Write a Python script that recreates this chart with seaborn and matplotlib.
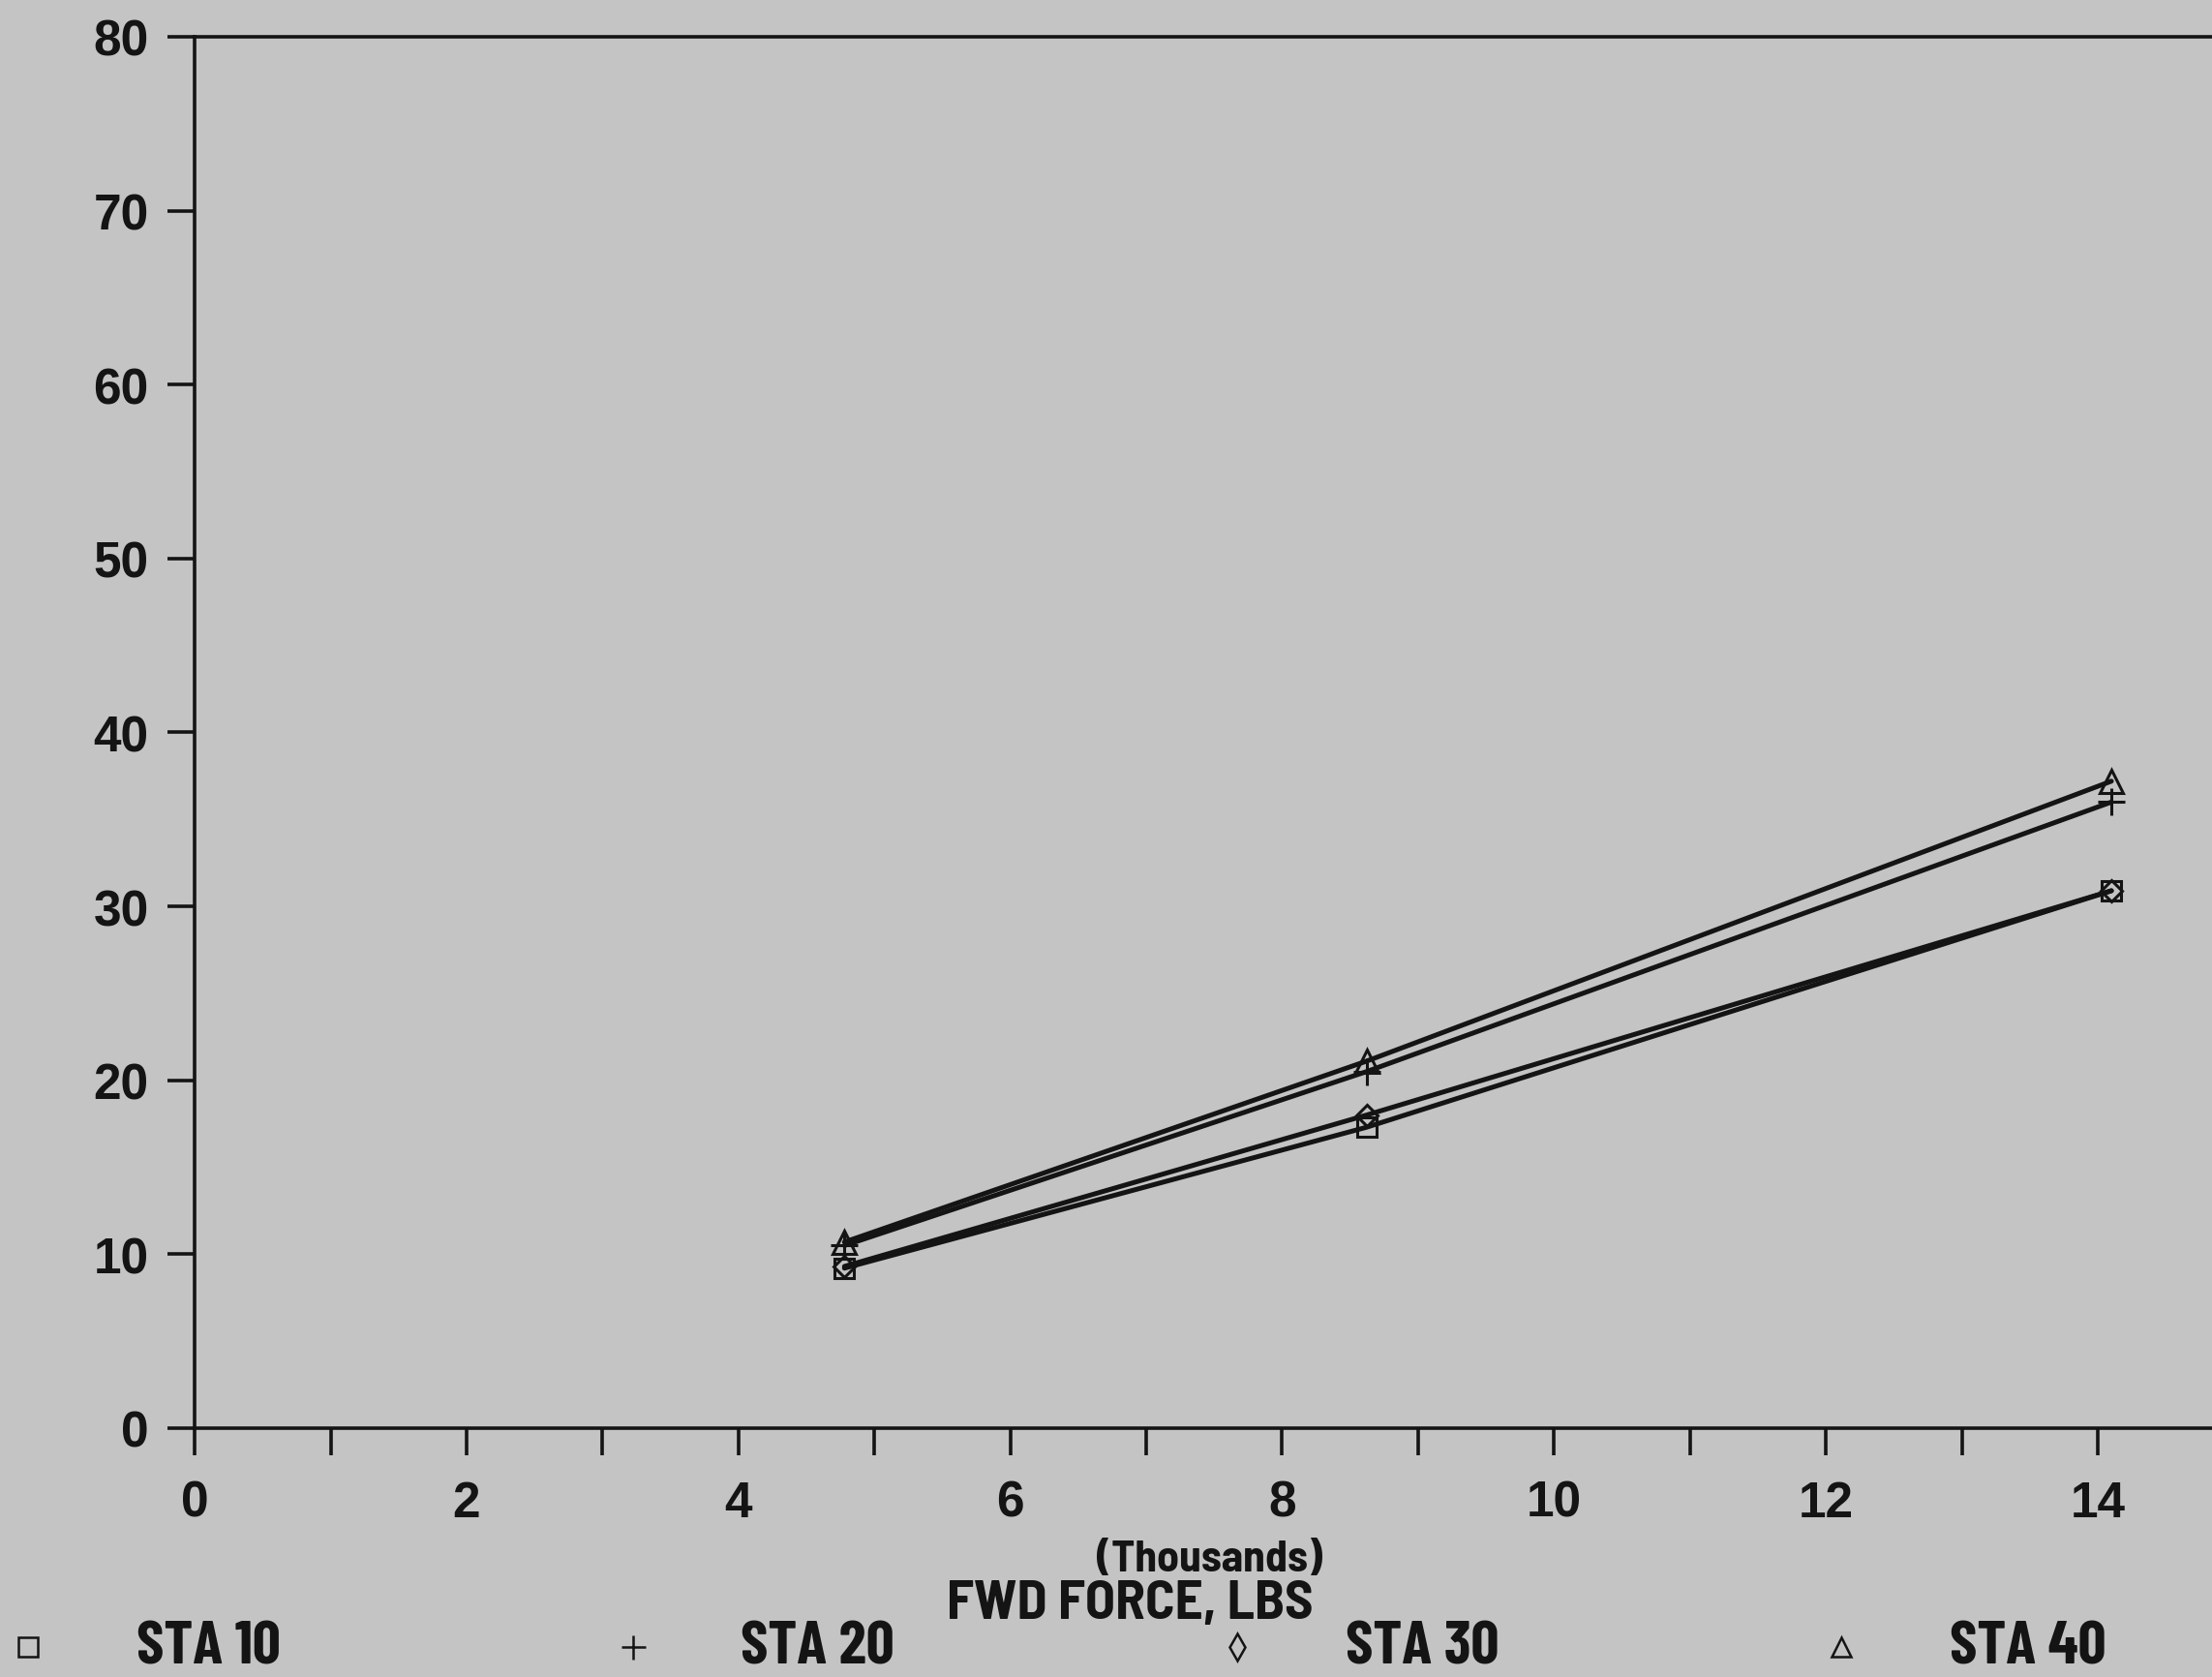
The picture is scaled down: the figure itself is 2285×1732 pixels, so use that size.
import matplotlib
matplotlib.use("Agg")
import matplotlib.pyplot as plt
from matplotlib.lines import Line2D
from matplotlib.ticker import FixedLocator
import numpy as np
import pandas as pd
import seaborn as sns

# FWD force (thousands of lbs) and deflection readings per station
force = [4.78, 8.62, 14.1]
sta_10 = [9.2, 17.3, 30.9]
sta_20 = [10.5, 20.5, 36.0]
sta_30 = [9.3, 18.0, 30.9]
sta_40 = [10.7, 21.1, 37.2]

stations = ["STA 10", "STA 20", "STA 30", "STA 40"]

x_ticks = list(range(0, 15))
x_tick_labels = [str(t) if t % 2 == 0 else "" for t in x_ticks]
y_ticks = [0, 10, 20, 30, 40, 50, 60, 70, 80]

paper = "#c4c4c4"
ink = "#141414"

sns.set_theme(style="white")
plt.rcParams["font.family"] = ["Liberation Sans", "DejaVu Sans"]
plt.rcParams["font.weight"] = "bold"

df = pd.DataFrame({
    "force": force * 4,
    "value": sta_10 + sta_20 + sta_30 + sta_40,
    "station": [s for s in stations for _ in force],
})

fig = plt.figure(figsize=(22.85, 17.33), dpi=100, facecolor=paper)
ax = fig.add_axes([0.088, 0.1483, 0.912, 0.8292])
ax.set_facecolor(paper)

# marker, marker size per station
styles = {"STA 10": ("s", 15), "STA 20": ("+", 20),
          "STA 30": ("D", 11), "STA 40": ("^", 17)}
for name in stations:
    mk, ms = styles[name]
    sns.lineplot(
        data=df[df["station"] == name], x="force", y="value",
        color=ink, marker=mk, markersize=ms, markeredgewidth=2.2,
        markerfacecolor="none", markeredgecolor=ink, linewidth=3.6,
        legend=False, ax=ax,
    )

ax.set_xlim(0, 14.84)
ax.set_ylim(0, 80)
ax.xaxis.set_major_locator(FixedLocator(x_ticks))
ax.set_xticklabels(x_tick_labels)
ax.set_yticks(y_ticks)
ax.set_xlabel("")
ax.set_ylabel("")

for side in ["left", "bottom", "top"]:
    ax.spines[side].set_visible(True)
    ax.spines[side].set_color(ink)
    ax.spines[side].set_linewidth(2.6)
ax.spines["right"].set_visible(False)

ax.tick_params(axis="both", direction="out", length=20, width=2.6,
               color=ink, labelcolor=ink, labelsize=37)
ax.tick_params(axis="x", pad=18, bottom=True)
ax.tick_params(axis="y", pad=14, left=True)
for lbl in ax.get_xticklabels() + ax.get_yticklabels():
    lbl.set_fontweight("bold")

condensed = ["Barlow Condensed", "DejaVu Sans"]
semi = ["Barlow Semi Condensed", "Barlow Condensed", "DejaVu Sans"]
fig.text(0.547, 0.0700, "(Thousands)", ha="center", va="center",
         fontsize=33, fontweight="bold", color=ink, family=semi)
fig.text(0.511, 0.0437, "FWD FORCE, LBS", ha="center", va="center",
         fontsize=41, fontweight="bold", color=ink, family=semi)

# Legend row along the bottom edge
legend_y = 0.0180
for i, (name, mk) in enumerate(zip(stations, ["s", "+", "d", "^"])):
    mx = 0.0127 + i * 0.2733
    tx = 0.0617 + i * 0.2733
    key = Line2D([mx], [legend_y], transform=fig.transFigure, marker=mk,
                 linestyle="none", markersize=14 if mk != "+" else 18,
                 markerfacecolor="none", markeredgecolor=ink,
                 markeredgewidth=1.8)
    fig.add_artist(key)
    fig.text(tx, legend_y, name, ha="left", va="center", fontsize=46,
             fontweight="bold", color=ink, family=condensed)

fig.savefig("out.png", dpi=100, facecolor=paper)
